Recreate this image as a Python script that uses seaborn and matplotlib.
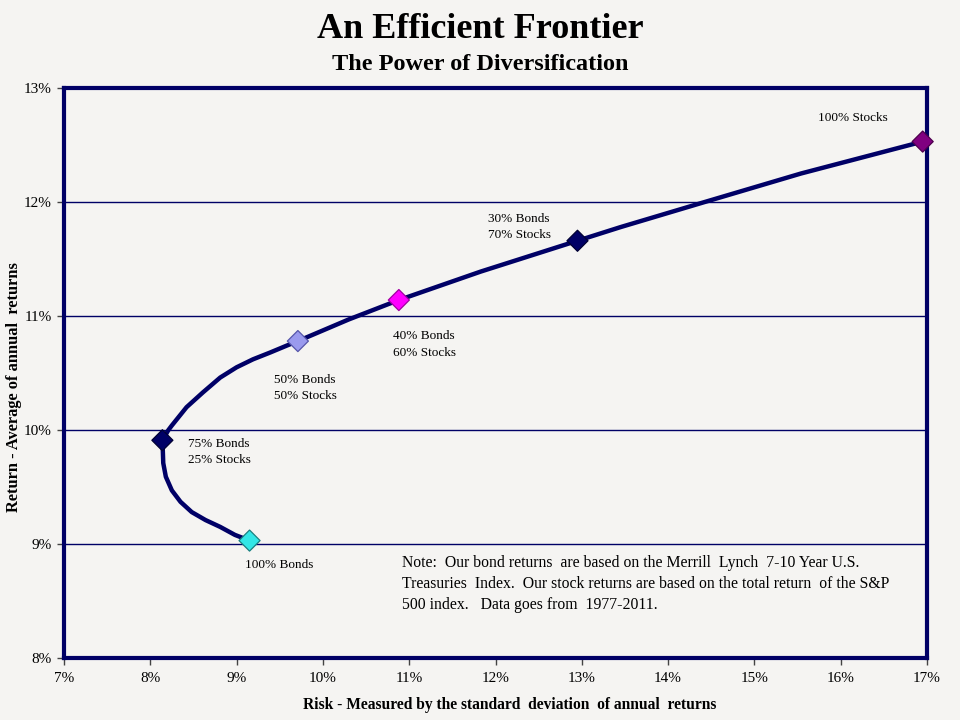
import pandas as pd
import matplotlib
matplotlib.use("Agg")
import matplotlib.pyplot as plt
import seaborn as sns

# portfolio mixes (risk %, return %)
mixes = ["100% Bonds", "75% Bonds\n25% Stocks", "50% Bonds\n50% Stocks",
         "40% Bonds\n60% Stocks", "30% Bonds\n70% Stocks", "100% Stocks"]
risk = [9.15, 8.14, 9.71, 10.88, 12.95, 16.95]
ret = [9.03, 9.91, 10.78, 11.14, 11.66, 12.53]
mix_colors = ["#33e6e6", "#000066", "#9a9aee", "#ff00ff", "#000066", "#800080"]
mix_edges = ["#1a8080", "#000033", "#5555aa", "#a000a0", "#000033", "#4d004d"]

# frontier curve
curve_risk = [9.15, 8.98, 8.81, 8.64, 8.48, 8.35, 8.25, 8.18, 8.15, 8.145, 8.14,
              8.21, 8.25, 8.42, 8.61, 8.81, 9.00, 9.19, 9.39, 9.58, 9.71, 10.30,
              10.88, 11.83, 12.95, 13.45, 14.38, 15.54, 16.95]
curve_ret = [9.03, 9.08, 9.15, 9.21, 9.28, 9.37, 9.47, 9.59, 9.71, 9.82, 9.91,
             10.00, 10.04, 10.20, 10.33, 10.46, 10.55, 10.62, 10.68, 10.74, 10.78,
             10.97, 11.14, 11.39, 11.66, 11.78, 11.99, 12.25, 12.53]

# label anchor points (left edge, vertical centre)
label_x = [9.10, 8.44, 9.43, 10.81, 11.91, 15.74]
label_y = [8.82, 9.81, 10.37, 10.75, 11.78, 12.74]

x_ticks = [7, 8, 9, 10, 11, 12, 13, 14, 15, 16, 17]
y_ticks = [8, 9, 10, 11, 12, 13]

note = ("Note:  Our bond returns  are based on the Merrill  Lynch  7-10 Year U.S.\n"
        "Treasuries  Index.  Our stock returns are based on the total return  of the S&P\n"
        "500 index.   Data goes from  1977-2011.")

navy = "#000066"
bg = "#f5f4f2"

sns.set_style("white")
plt.rcParams["font.family"] = ["Liberation Serif", "DejaVu Serif"]
plt.rcParams["text.color"] = "black"
plt.rcParams["xtick.color"] = "black"
plt.rcParams["ytick.color"] = "black"

fig = plt.figure(figsize=(9.6, 7.2), dpi=100, facecolor=bg)
ax = fig.add_axes([64 / 960, 1 - 658 / 720, 863 / 960, 570 / 720])
ax.set_facecolor(bg)

df_curve = pd.DataFrame({"risk": curve_risk, "ret": curve_ret})
df_mix = pd.DataFrame({"risk": risk, "ret": ret, "mix": mixes})

for yv in y_ticks[1:-1]:
    ax.axhline(yv, color=navy, lw=1, zorder=1)

sns.lineplot(data=df_curve, x="risk", y="ret", sort=False, estimator=None,
             errorbar=None, color=navy, lw=3.2, ax=ax, zorder=3)
ax.scatter(df_mix["risk"], df_mix["ret"], marker="D", s=115, c=mix_colors,
           edgecolors=mix_edges, linewidths=0.9, zorder=4, clip_on=False)

for lab, lx, ly in zip(mixes, label_x, label_y):
    ax.text(lx, ly, lab, fontsize=9.5, ha="left", va="center", linespacing=1.45)

ax.text(10.92, 8.65, note, fontsize=11.3, ha="left", va="center", linespacing=1.42)

ax.set_xlim(7, 17)
ax.set_ylim(8, 13)
ax.set_xticks(x_ticks)
ax.set_xticklabels([f"{v}%" for v in x_ticks])
ax.set_yticks(y_ticks)
ax.set_yticklabels([f"{v}%" for v in y_ticks])
ax.tick_params(axis="both", direction="out", length=5, width=1, color="#444444",
               labelsize=11, pad=4, bottom=True, left=True)
ax.tick_params(axis="x", pad=5)
ax.set_xlabel("")
ax.set_ylabel("")
for sp in ax.spines.values():
    sp.set_color(navy)
    sp.set_linewidth(3)

fig.text(0.5, 1 - 29 / 720, "An Efficient Frontier", ha="center", va="center",
         fontsize=26, fontweight="bold")
fig.text(0.5, 1 - 64 / 720, "The Power of Diversification", ha="center", va="center",
         fontsize=17.5, fontweight="bold")
fig.text(510 / 960, 1 - 705 / 720,
         "Risk - Measured by the standard  deviation  of annual  returns",
         ha="center", va="center", fontsize=11.2, fontweight="bold")
fig.text(14 / 960, 1 - 387 / 720, "Return - Average of annual  returns", ha="center",
         va="center", rotation=90, fontsize=11.8, fontweight="bold")

fig.savefig("out.png", dpi=100, facecolor=bg)
